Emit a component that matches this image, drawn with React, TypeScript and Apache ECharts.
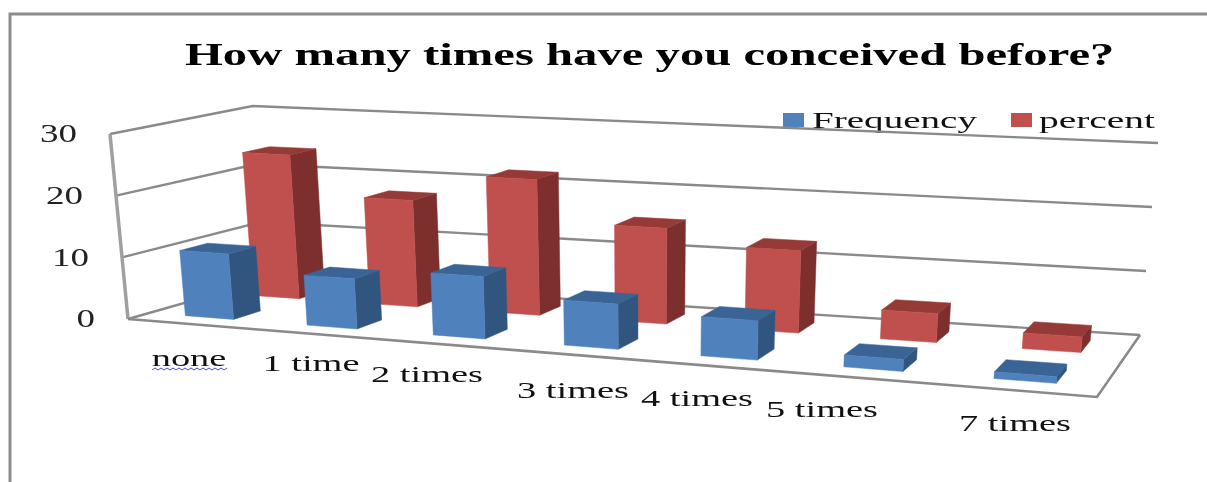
import React, { useEffect, useRef } from "react";
import * as echarts from "echarts";

const TITLE = "How many times have you conceived before?";
const categories = ["none", "1 time", "2 times", "3 times", "4 times", "5 times", "7 times"];
const frequency = [10.6, 8, 9.8, 7, 6, 1.8, 1];
const percent = [24, 17.5, 22, 15.3, 13, 4.5, 2.4];
const yTicks = [0, 10, 20, 30];
const legendNames = ["Frequency", "percent"];

// Layout: pixel placement of the perspective box and the hand-placed texts
const FLOOR = [[128, 319], [1097, 397], [1140, 335], [265, 280]];
const HEIGHTS = [185, 205, 192, 174]; // box height at each floor corner
const VANISH = [643, 5617]; // where the box's verticals meet
const LABEL_POS = [[189, 358], [311, 363], [427, 374], [573, 390], [697, 398], [822, 409], [1015, 423]];
const GRID = { left: 100, top: 134, width: 1000, height: 185 };
const GRID_COLOR = "#8a8a8a";

function homography(q: number[][]) {
  const [[x0, y0], [x1, y1], [x2, y2], [x3, y3]] = q;
  const dx1 = x1 - x2, dx2 = x3 - x2, dy1 = y1 - y2, dy2 = y3 - y2;
  const sx = x0 - x1 + x2 - x3, sy = y0 - y1 + y2 - y3;
  const det = dx1 * dy2 - dx2 * dy1;
  const g = (sx * dy2 - dx2 * sy) / det, h = (dx1 * sy - sx * dy1) / det;
  const a = x1 - x0 + g * x1, b = x3 - x0 + h * x3, d = y1 - y0 + g * y1, e = y3 - y0 + h * y3;
  return (u: number, v: number) => {
    const k = g * u + h * v + 1;
    return [(a * u + b * v + x0) / k, (d * u + e * v + y0) / k];
  };
}
const floorH = homography(FLOOR);
const bilinear = (u: number, v: number, vals: number[]) =>
  vals[0] * (1 - u) * (1 - v) + vals[1] * u * (1 - v) + vals[2] * u * v + vals[3] * (1 - u) * v;
// The reference's foreshortening lies halfway between a true projection and a plain bilinear map
const floorAt = (u: number, v: number) => {
  const h = floorH(u, v);
  return [
    (h[0] + bilinear(u, v, FLOOR.map((c) => c[0]))) / 2,
    (h[1] + bilinear(u, v, FLOOR.map((c) => c[1]))) / 2,
  ];
};
const project = (u: number, v: number, w: number) => {
  const f = floorAt(u, v);
  const H = bilinear(u, v, HEIGHTS);
  const slope = (f[0] - VANISH[0]) / (VANISH[1] - f[1]);
  return [f[0] + slope * H * w, f[1] - H * w];
};

function barRenderer(v0: number, v1: number, front: string, side: string, top: string) {
  return (params: any, api: any) => {
    const cs = params.coordSys;
    const p = api.coord([api.value(0), api.value(1)]);
    const u = (p[0] - cs.x) / cs.width;
    const w = (cs.y + cs.height - p[1]) / cs.height;
    const hw = (api.size([1, 0])[0] * 0.2) / cs.width;
    const u0 = u - hw, u1 = u + hw;
    const poly = (pts: number[][], fill: string) => ({
      type: "polygon",
      shape: { points: pts },
      style: { fill, stroke: fill, lineWidth: 0.5 },
    });
    return {
      type: "group",
      children: [
        poly([project(u1, v0, 0), project(u1, v1, 0), project(u1, v1, w), project(u1, v0, w)], side),
        poly([project(u0, v0, w), project(u1, v0, w), project(u1, v1, w), project(u0, v1, w)], top),
        poly([project(u0, v0, 0), project(u1, v0, 0), project(u1, v0, w), project(u0, v0, w)], front),
      ],
    };
  };
}

function wallRenderer(params: any, api: any) {
  const cs = params.coordSys;
  const value = api.value(0);
  const p = api.coord([0, value]);
  const w = (cs.y + cs.height - p[1]) / cs.height;
  const corner = project(0, 0, w);
  return {
    type: "group",
    children: [
      {
        type: "polyline",
        shape: { points: [corner, project(0, 1, w), project(1, 1, w)] },
        style: { stroke: GRID_COLOR, lineWidth: 2.4, fill: "none" },
      },
      {
        type: "text",
        x: corner[0] - 33,
        y: corner[1],
        scaleX: 1.48,
        style: { text: String(value), font: "25px 'Liberation Serif'", fill: "#222", align: "right", verticalAlign: "middle" },
      },
    ],
  };
}

function frameRenderer() {
  return {
    type: "group",
    children: [
      {
        type: "polyline",
        shape: { points: [project(0, 0, 1), project(0, 0, 0)] },
        style: { stroke: "#a0a0a0", lineWidth: 3.5, fill: "none" },
      },
      {
        type: "polyline",
        shape: { points: [project(0, 0, 0), project(1, 0, 0), project(1, 1, 0)] },
        style: { stroke: GRID_COLOR, lineWidth: 2.6, fill: "none" },
      },
    ],
  };
}

const squiggle: number[][] = [];
for (let x = 152; x <= 228; x += 3) squiggle.push([x, x % 2 === 0 ? 370 : 368]);

function fitScale(text: string, font: string, target: number) {
  const ctx = document.createElement("canvas").getContext("2d")!;
  ctx.font = font;
  return target / ctx.measureText(text).width;
}

export default function App() {
  const ref = useRef<HTMLDivElement>(null);
  useEffect(() => {
    const chart = echarts.init(ref.current!, null, { renderer: "svg" });
    const catText = categories.map((c, i) => ({
      type: "text",
      x: LABEL_POS[i][0],
      y: LABEL_POS[i][1],
      scaleX: 1.6,
      style: { text: c, font: "24px 'Liberation Serif'", fill: "#111", align: "center", verticalAlign: "middle" },
    }));
    const titleFont = "bold 32px 'Liberation Serif'";
    const legendFont = "23px 'Liberation Serif'";
    const legendCfg = [
      { sq: 783, tx: 812, w: 165, color: "#4F81BD" },
      { sq: 1011, tx: 1039, w: 116, color: "#C0504D" },
    ];
    const legendItems = legendNames.flatMap((name, i) => [
      { type: "rect", shape: { x: legendCfg[i].sq, y: 113, width: 21, height: 14 }, style: { fill: legendCfg[i].color } },
      {
        type: "text",
        x: legendCfg[i].tx,
        y: 120,
        scaleX: fitScale(name, legendFont, legendCfg[i].w),
        style: { text: name, font: legendFont, fill: "#111", align: "left", verticalAlign: "middle" },
      },
    ]);
    chart.setOption({
      animation: false,
      backgroundColor: "#fff",
      grid: GRID,
      xAxis: { type: "category", data: categories, show: false },
      yAxis: {
        type: "value",
        min: 0,
        max: 30,
        interval: 10,
        axisLine: { show: false },
        axisTick: { show: false },
        splitLine: { show: false },
        axisLabel: { show: false },
      },
      graphic: [
        { type: "polyline", shape: { points: [[10, 482], [10, 14], [1207, 14]] }, style: { stroke: "#8c8c8c", lineWidth: 3, fill: "none" } },
        {
          type: "text",
          x: 185,
          y: 54,
          scaleX: fitScale(TITLE, titleFont, 930),
          style: { text: TITLE, font: titleFont, fill: "#000", align: "left", verticalAlign: "middle" },
        },
        ...catText,
        { type: "polyline", shape: { points: squiggle }, style: { stroke: "#4a4ad8", lineWidth: 1, fill: "none" } },
        ...legendItems,
      ],
      series: [
        { type: "custom", name: "walls", z: 1, silent: true, data: yTicks.map((t) => [t]), renderItem: wallRenderer, encode: { y: 0 } },
        { type: "custom", name: "frame", z: 1, silent: true, data: [[0]], renderItem: frameRenderer },
        {
          type: "custom",
          name: "percent",
          z: 2,
          itemStyle: { color: "#C0504D" },
          data: percent.map((v, i) => [i, v]),
          encode: { x: 0, y: 1 },
          renderItem: barRenderer(0.65, 0.85, "#C0504D", "#7D2F2D", "#963A38"),
        },
        {
          type: "custom",
          name: "Frequency",
          z: 3,
          itemStyle: { color: "#4F81BD" },
          data: frequency.map((v, i) => [i, v]),
          encode: { x: 0, y: 1 },
          renderItem: barRenderer(0.15, 0.35, "#4F81BD", "#305680", "#3A6496"),
        },
      ],
    });
    return () => chart.dispose();
  }, []);
  return (
    <div
      ref={ref}
      style={{ position: "absolute", left: 0, top: 0, width: 1207, height: 482, filter: "blur(0.5px)" }}
    />
  );
}
